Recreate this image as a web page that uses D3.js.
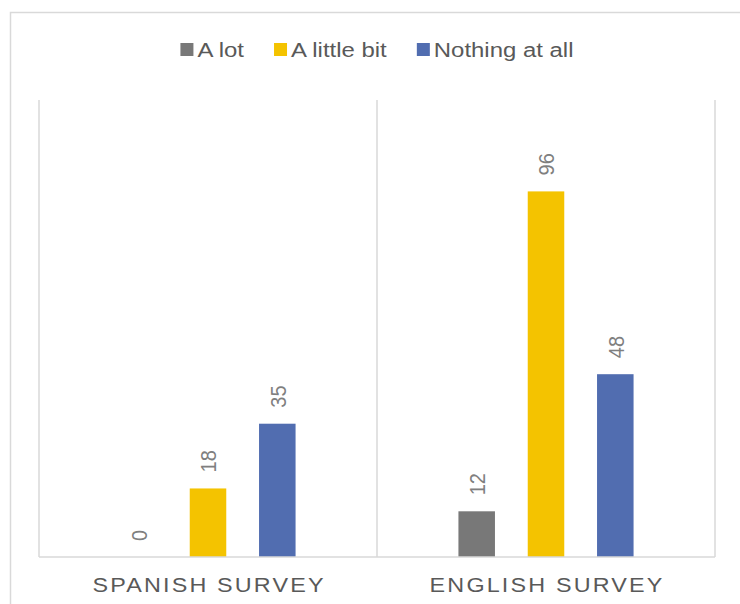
<!DOCTYPE html>
<html>
<head>
<meta charset="utf-8">
<script src="https://cdn.jsdelivr.net/npm/d3@7"></script>
<style>
  html, body { margin: 0; padding: 0; background: #fff; }
  svg { display: block; font-family: "Liberation Sans", Arial, sans-serif; }
</style>
</head>
<body>
<svg id="chart" width="740" height="604"></svg>
<script>
// Survey responses by language version
const categories = ["SPANISH SURVEY", "ENGLISH SURVEY"];
const seriesNames = ["A lot", "A little bit", "Nothing at all"];
const aLot = [0, 12];
const aLittleBit = [18, 96];
const nothingAtAll = [35, 48];
const seriesColors = ["#787878", "#F4C300", "#516DB0"];

const seriesValues = [aLot, aLittleBit, nothingAtAll];

const svg = d3.select("#chart");
const W = 740, H = 604;
const plot = { left: 39, right: 715, top: 100, bottom: 557 };
const textStretch = 1.14; // wide rendering of the text glyphs

// outer chart frame
svg.append("rect")
  .attr("x", 10.5).attr("y", 12.5)
  .attr("width", W + 20).attr("height", H + 20)
  .attr("fill", "#fff").attr("stroke", "#d9d9d9").attr("stroke-width", 1.5);

const x0 = d3.scaleBand().domain(categories).range([plot.left, plot.right]).padding(0);
const x1 = d3.scaleBand().domain(seriesNames).range([0, x0.bandwidth()])
  .paddingInner(0.473).paddingOuter(1.175);
const y = d3.scaleLinear().domain([0, 120]).range([plot.bottom, plot.top]);

// category separators
const seps = [plot.left, ...categories.map(c => x0(c) + x0.bandwidth())];
svg.append("g").selectAll("line").data(seps).join("line")
  .attr("x1", d => d).attr("x2", d => d)
  .attr("y1", plot.top).attr("y2", plot.bottom)
  .attr("stroke", "#d9d9d9").attr("stroke-width", 1.5);

// bars
const rows = [];
categories.forEach((c, ci) => {
  seriesNames.forEach((s, si) => {
    rows.push({ cat: c, series: s, value: seriesValues[si][ci], color: seriesColors[si] });
  });
});

svg.append("g").selectAll("rect").data(rows).join("rect")
  .attr("x", d => x0(d.cat) + x1(d.series))
  .attr("y", d => y(d.value))
  .attr("width", x1.bandwidth())
  .attr("height", d => y(0) - y(d.value))
  .attr("fill", d => d.color);

// baseline
svg.append("line")
  .attr("x1", plot.left).attr("x2", plot.right)
  .attr("y1", plot.bottom).attr("y2", plot.bottom)
  .attr("stroke", "#d9d9d9").attr("stroke-width", 1.5);

// rotated value labels
const labelSize = 20;
svg.append("g").selectAll("text").data(rows).join("text")
  .attr("transform", d => {
    const cx = x0(d.cat) + x1(d.series) + x1.bandwidth() / 2 + 0.36 * labelSize * textStretch;
    const cy = y(d.value) - 16;
    return `translate(${cx},${cy}) scale(${textStretch},1) rotate(-90)`;
  })
  .attr("font-size", labelSize)
  .attr("fill", "#7f7f7f")
  .attr("text-anchor", "start")
  .text(d => d.value);

// category axis labels
const spacing = 1.9;
svg.append("g").selectAll("text").data(categories).join("text")
  .attr("transform", c => `translate(${x0(c) + x0.bandwidth() / 2},591.5) scale(${textStretch},1)`)
  .attr("dx", spacing / 2)
  .attr("font-size", 20.5)
  .attr("letter-spacing", spacing)
  .attr("fill", "#595959")
  .attr("text-anchor", "middle")
  .text(c => c);

// legend
const legend = svg.append("g");
const items = legend.selectAll("g").data(seriesNames).join("g");
items.append("rect")
  .attr("width", 13).attr("height", 13)
  .attr("y", 43)
  .attr("fill", (d, i) => seriesColors[i]);
items.append("text")
  .attr("font-size", 21)
  .attr("fill", "#595959")
  .attr("y", 57.5)
  .text(d => d);

const squareGap = 4, itemGap = 30;
let widths = [];
items.each(function () {
  const t = d3.select(this).select("text");
  widths.push(t.node().getComputedTextLength() * textStretch);
});
const total = d3.sum(widths) + seriesNames.length * (13 + squareGap) + (seriesNames.length - 1) * itemGap;
let cursor = (plot.left + plot.right) / 2 - total / 2;
items.each(function (d, i) {
  const g = d3.select(this);
  g.select("rect").attr("x", cursor);
  const tx = cursor + 13 + squareGap;
  g.select("text").attr("transform", `translate(${tx},0) scale(${textStretch},1)`);
  cursor = tx + widths[i] + itemGap;
});
</script>
</body>
</html>
